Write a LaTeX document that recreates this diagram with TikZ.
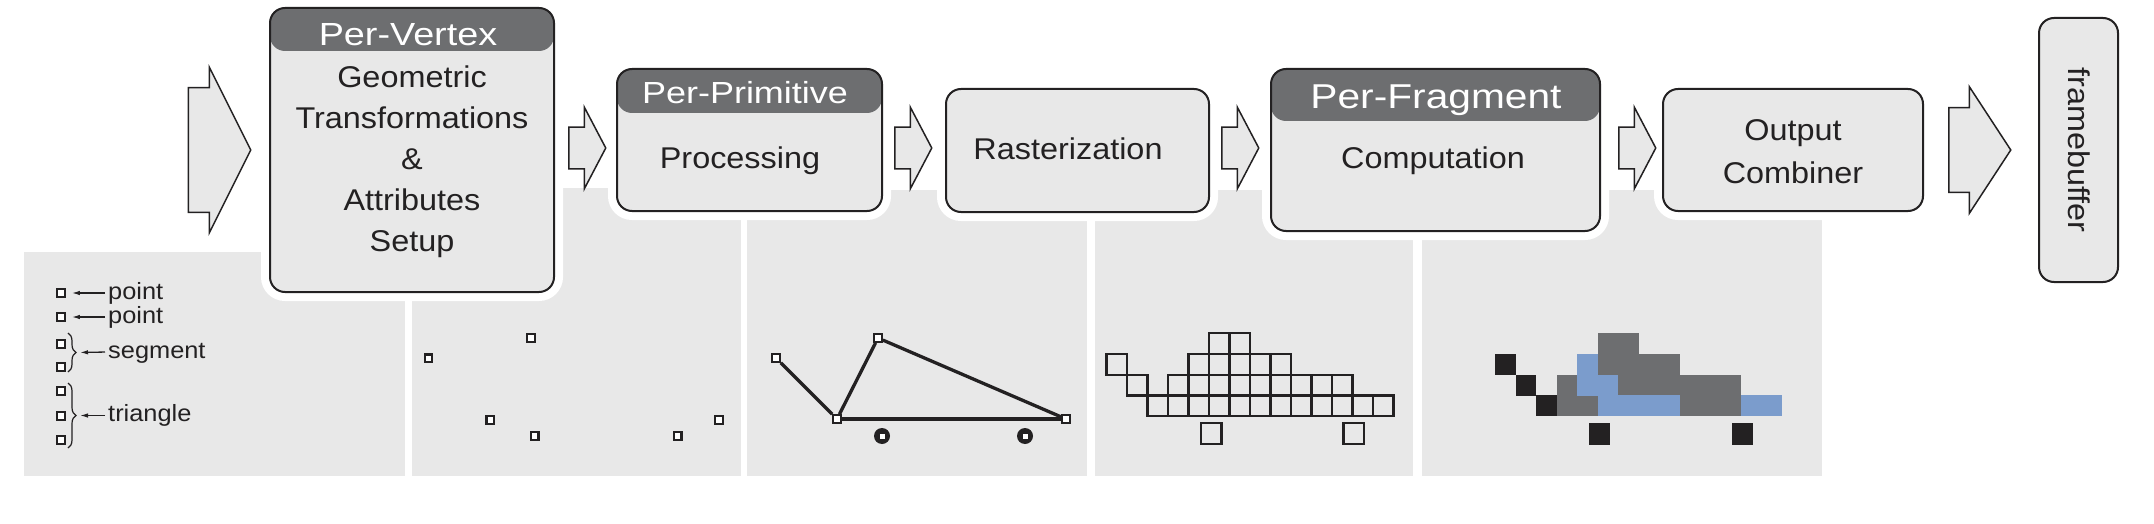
\documentclass[tikz,border=0pt]{standalone}
\usepackage{fontspec}
\setmainfont{Liberation Sans}[FakeStretch=1.18]
\newfontfamily\bodyfont{Liberation Sans}[FakeStretch=1.08]
\usepackage{tikz}
\usetikzlibrary{arrows.meta}
\usetikzlibrary{positioning}
\usetikzlibrary{shapes.arrows}
\usetikzlibrary{decorations.pathreplacing}

\definecolor{boxgray}{RGB}{232,232,232}
\definecolor{hdgray}{RGB}{109,110,112}
\definecolor{fragblue}{RGB}{123,156,204}
\definecolor{ink}{RGB}{35,33,34}

\tikzset{
  stage/.style={draw=ink, line width=2pt, rounded corners=15pt, fill=boxgray, inner sep=0pt,
    preaction={draw=white, line width=18pt}},
  banner/.style={path picture={\fill [hdgray] (path picture bounding box.north west)
    rectangle ([yshift=-#1]path picture bounding box.north east);}},
  hdtxt/.style={text=white, font=\fontsize{#1}{#1}\selectfont, anchor=base, inner sep=0pt},
  txt/.style={text=ink, font=\bodyfont\fontsize{30}{36}\selectfont, anchor=base, inner sep=0pt,
    text height=22pt, text depth=6.5pt},
  lbl/.style={text=ink, font=\bodyfont\fontsize{23.5}{28}\selectfont, anchor=west, inner sep=0pt,
    text height=17pt, text depth=5pt},
  barrow/.style={single arrow, draw=ink, line width=1.5pt, fill=boxgray, inner xsep=0pt,
    single arrow head indent=0pt, anchor=tail},
  vtx/.style={draw=ink, fill=white, line width=2.2pt, minimum size=7.5pt, inner sep=0pt},
  seg/.style={draw=ink, line width=3.3pt},
  fpt/.style={circle, fill=ink, minimum size=16pt, inner sep=0pt,
    path picture={\fill [white] ([shift={(-2.5pt,-2.5pt)}]path picture bounding box.center)
      rectangle ([shift={(2.5pt,2.5pt)}]path picture bounding box.center);}},
  cell/.style={draw=ink, line width=2.2pt},
  ptr/.style={-{Latex[length=8pt,width=4.5pt]}, line width=1.3pt, draw=ink},
  brc/.style={decorate, decoration={brace, amplitude=8pt}, line width=1.2pt, draw=ink}
}

\begin{document}
\begin{tikzpicture}[x=1pt, y=-1pt]
  \useasboundingbox (0,0) rectangle (2154,524);

  \fill [boxgray] (24,252) rectangle (405,476);
  \fill [boxgray] (412,188) rectangle (741,476);
  \fill [boxgray] (747,190) rectangle (1087,476);
  \fill [boxgray] (1095,190) rectangle (1413,476);
  \fill [boxgray] (1422,190) rectangle (1822,476);

  \node [stage, banner=43pt, minimum width=284pt, minimum height=284pt] (c1) at (412,150) {};
  \node [stage, banner=44pt, minimum width=265pt, minimum height=142pt] (c2) at (749.5,140) {};
  \node [stage, minimum width=263pt, minimum height=123pt] (c3) at (1077.5,150.5) {};
  \node [stage, banner=52pt, minimum width=329pt, minimum height=162pt] (c4) at (1435.5,150) {};
  \node [stage, minimum width=260pt, minimum height=122pt] (c5) at (1793,150) {};
  \node [stage, minimum width=79pt, minimum height=264pt] (c6) at (2078.5,150) {};

  \node (iPerVertex) [hdtxt=32] at (408,46) {Per-Vertex};
  \node (iPerPrim) [hdtxt=30.5] at (745,103.5) {Per-Primitive};
  \node (iPerFrag) [hdtxt=34.5] at (1436,108.5) {Per-Fragment};

  \node (iGeo) [txt] at (412,88) {Geometric};
  \node (iTrans) [txt, below=12pt of iGeo] {Transformations};
  \node (iAmp) [txt, below=12pt of iTrans] {\&};
  \node (iAttr) [txt, below=12pt of iAmp] {Attributes};
  \node (iSetup) [txt, below=12pt of iAttr] {Setup};
  \node (iProc) [txt] at (740,168) {Processing};
  \node (iRast) [txt] at (1068,160) {Rasterization};
  \node (iComp) [txt] at (1433,168) {Computation};
  \node (iOut) [txt] at (1793,140) {Output};
  \node (iComb) [txt, below=14.5pt of iOut] {Combiner};
  \node (iFB) [txt, rotate=-90] at (2068,150) {framebuffer};

  \node (a0) [barrow, inner ysep=61.5pt, single arrow head extend=20.5pt,
    single arrow tip angle=126.9, minimum height=62.5pt] at (187.5,150) {};
  \foreach \x [count=\i] in {568,894,1221,1618}
    \node (a\i) [barrow, inner ysep=20pt, single arrow head extend=20pt,
      single arrow tip angle=124.6, minimum height=37pt] at (\x,148) {};
  \node (a5) [barrow, inner ysep=41.7pt, single arrow head extend=21pt,
    single arrow tip angle=113.6, minimum height=62pt] at (1948,150) {};

  \foreach \y [count=\i] in {293,317,344,367,391,416,440}
    \node (p\i) [vtx] at (61,\y) {};
  \node (iPt1) [lbl] at (108,293) {point};
  \node (iPt2) [lbl] at (108,317) {point};
  \node (iSeg) [lbl] at (108,352) {segment};
  \node (iTri) [lbl] at (108,415.5) {triangle};
  \draw [brc] (68,333) -- (68,372);
  \draw [brc] (68,383) -- (68,448);
  \coordinate (bSeg) at (76,352.5);
  \coordinate (bTri) at (76,415.5);
  \draw [ptr, shorten <=3pt, shorten >=6pt] (iPt1.west) -- (p1.east);
  \draw [ptr, shorten <=3pt, shorten >=6pt] (iPt2.west) -- (p2.east);
  \draw [ptr, shorten <=3pt, shorten >=4pt] (iSeg.west) -- (bSeg);
  \draw [ptr, shorten <=3pt, shorten >=4pt] (iTri.west) -- (bTri);

  \foreach \x/\y [count=\i] in {531/338, 428.6/358.3, 490.3/420, 534.8/436, 677.8/436, 719/420}
    \node (q\i) [vtx] at (\x,\y) {};

  \node (r1) [vtx] at (776,358) {};
  \node (r2) [vtx] at (837,419) {};
  \node (r3) [vtx] at (878,338) {};
  \node (r4) [vtx] at (1066,419) {};
  \draw [seg] (r1) -- (r2);
  \draw [seg] (r2) -- (r3);
  \draw [seg] (r3) -- (r4);
  \draw [seg] (r2) -- (r4);
  \node (f1) [fpt] at (882,436) {};
  \node (f2) [fpt] at (1025,436) {};

  \foreach \r/\a/\b in {0/5/6, 1/0/0, 1/4/8, 2/1/1, 2/3/11, 3/2/13}
    \foreach \c in {\a,...,\b}
      \draw [cell] ({1106.5+\c*20.5},{333.3+\r*20.7}) rectangle ++(20.5,20.7);
  \draw [cell] (1201,423.3) rectangle ++(20.5,20.7);
  \draw [cell] (1343.5,423.3) rectangle ++(20.5,20.7);

  \foreach \r/\a/\b/\col in {1/0/0/ink, 2/1/1/ink, 3/2/2/ink, 0/5/6/hdgray, 1/5/8/hdgray,
      2/3/3/hdgray, 2/6/11/hdgray, 3/3/4/hdgray, 3/9/11/hdgray, 1/4/4/fragblue,
      2/4/5/fragblue, 3/5/8/fragblue, 3/12/13/fragblue}
    \foreach \c in {\a,...,\b}
      \fill [\col] ({1495+\c*20.5},{333.3+\r*20.7}) rectangle ++(20.6,20.8);
  \fill [ink] (1588.5,423.3) rectangle ++(21.5,21.5);
  \fill [ink] (1731.5,423.3) rectangle ++(21.5,21.5);
\end{tikzpicture}
\end{document}
